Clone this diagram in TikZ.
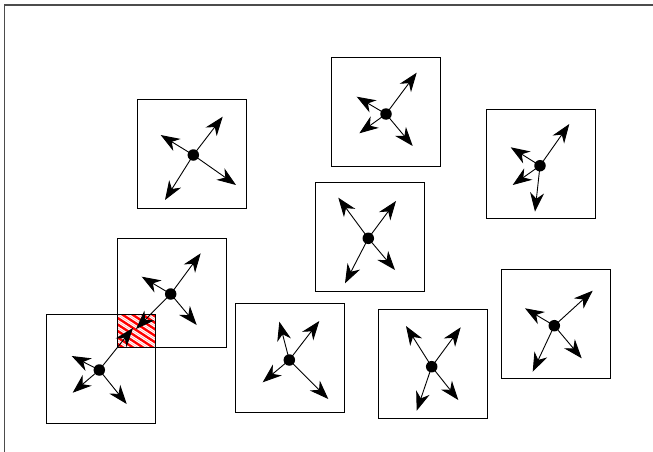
\documentclass[tikz,border=0pt]{standalone}
\usetikzlibrary{arrows.meta}
\begin{document}
\begin{tikzpicture}[x=1pt,y=-1pt,
  cell/.style={draw=black,line width=1pt,rectangle,minimum width=109pt,minimum height=109pt,inner sep=0pt},
  hub/.style={circle,fill=black,minimum size=11.5pt,inner sep=0pt},
  arr/.style={line width=0.9pt,-{Stealth[length=19pt,width=14pt,inset=6pt]}}]
\useasboundingbox (0,0) rectangle (653,452);
% frame
\draw[line width=1.4pt,black!70] (4.5,452) -- (4.5,5) -- (653,5);
% hatched overlap of boxes 5 and 6
\begin{scope}
  \clip (117.7,315) rectangle (155.7,346.7);
  \foreach \k in {-60,-50,...,60}{
    \draw[red,line width=2.4pt] (100+\k,300) -- ++(80,52);
    \draw[red!35,line width=0.5pt] (105+\k,300) -- ++(80,52);
  }
\end{scope}
% boxes
\node[cell] (b1) at (192.2,153.7) {};
\node[cell] (b2) at (386,111.7) {};
\node[cell] (b3) at (541.3,163.8) {};
\node[cell] (b4) at (370,237) {};
\node[cell] (b5) at (171.8,292.5) {};
\node[cell] (b6) at (101.2,369.2) {};
\node[cell] (b7) at (290,357.5) {};
\node[cell] (b8) at (433.3,364.3) {};
\node[cell] (b9) at (555.8,323.8) {};
% hubs
\node[hub] (d1) at (193.3,155) {};
\node[hub] (d2) at (386,114) {};
\node[hub] (d3) at (540,165.7) {};
\node[hub] (d4) at (368.3,238.3) {};
\node[hub] (d5) at (170.7,294) {};
\node[hub] (d6) at (99.3,370) {};
\node[hub] (d7) at (289.3,360) {};
\node[hub] (d8) at (431.7,366.7) {};
\node[hub] (d9) at (554.3,325.7) {};
% tips
\coordinate (t1a) at (222.7,116.7);
\coordinate (t1b) at (160.7,135);
\coordinate (t1c) at (165,200);
\coordinate (t1d) at (236,185);
\coordinate (t2a) at (416.7,72.7);
\coordinate (t2b) at (356.7,96.7);
\coordinate (t2c) at (359.3,133.3);
\coordinate (t2d) at (412.7,146);
\coordinate (t3a) at (569.3,124);
\coordinate (t3b) at (510.7,147.3);
\coordinate (t3c) at (512.7,185);
\coordinate (t3d) at (535,211.7);
\coordinate (t4a) at (338.3,197.7);
\coordinate (t4b) at (396,201);
\coordinate (t4c) at (345,283.3);
\coordinate (t4d) at (395,270);
\coordinate (t5a) at (200.7,253.3);
\coordinate (t5b) at (141.7,276.7);
\coordinate (t5c) at (136,329);
\coordinate (t5d) at (196.7,325);
\coordinate (t6a) at (133,328);
\coordinate (t6b) at (71.7,356);
\coordinate (t6c) at (72.7,392.7);
\coordinate (t6d) at (126.7,404);
\coordinate (t7a) at (279.3,321.7);
\coordinate (t7b) at (319.3,321);
\coordinate (t7c) at (262.7,382.3);
\coordinate (t7d) at (328.3,399);
\coordinate (t8a) at (406,326);
\coordinate (t8b) at (460.7,327.3);
\coordinate (t8c) at (416.7,410.7);
\coordinate (t8d) at (458.3,400);
\coordinate (t9a) at (592.7,290.7);
\coordinate (t9b) at (525,308.3);
\coordinate (t9c) at (532.7,371.7);
\coordinate (t9d) at (581.7,358.3);
\foreach \i in {1,...,9}{
  \foreach \j in {a,b,c,d}{
    \draw[arr] (d\i.center) -- (t\i\j);
  }
}
\end{tikzpicture}
\end{document}
